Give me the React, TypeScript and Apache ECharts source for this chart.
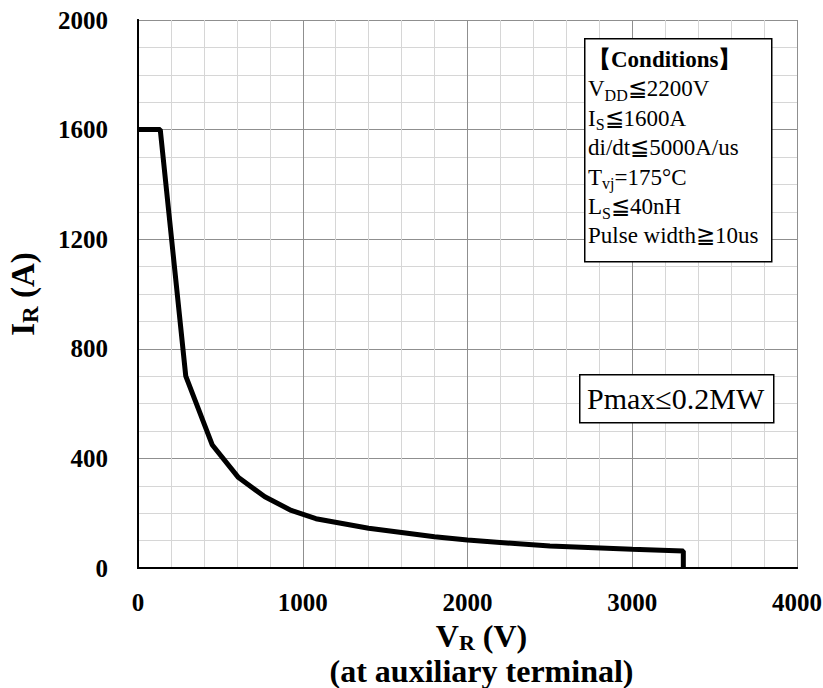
import React, { useEffect, useRef } from "react";
import * as echarts from "echarts";

const voltageV = [0, 135, 290, 450, 610, 770, 930, 1080, 1400, 1800, 2000, 2500, 3000, 3310, 3310];
const currentA = [1600, 1600, 700, 450, 330, 260, 210, 180, 145, 114, 102, 80, 68, 62, 0];
const xRange = [0, 4000];
const yRange = [0, 2000];
const conditionLines = [
  "{h|【Conditions】}",
  "{t|V}{s|DD}{t|≦2200V}",
  "{t|I}{s|S}{t|≦1600A}",
  "{t|di/dt≦5000A/us}",
  "{t|T}{s|vj}{t|=175°C}",
  "{t|L}{s|S}{t|≦40nH}",
  "{t|Pulse width≧10us}",
];
const pmaxText = "Pmax≤0.2MW";

const SERIF = "Liberation Serif";

export default function App() {
  const ref = useRef<HTMLDivElement>(null);
  useEffect(() => {
    if (!ref.current) return;
    const chart = echarts.init(ref.current, null, { renderer: "svg" });
    const data = voltageV.map((v, i) => [v, currentA[i]]);
    const frameAxis = {
      show: true,
      axisLine: { show: true, lineStyle: { color: "#000", width: 2 } },
      axisTick: { show: false },
      axisLabel: { show: false },
      splitLine: { show: false },
    };
    const richX = {
      b: { fontFamily: SERIF, fontWeight: "bold", fontSize: 32, color: "#000", lineHeight: 35 },
      bs: { fontFamily: SERIF, fontWeight: "bold", fontSize: 22, color: "#000", verticalAlign: "bottom", lineHeight: 29 },
    };
    const richY = {
      b: { fontFamily: SERIF, fontWeight: "bold", fontSize: 33, color: "#000", lineHeight: 38 },
      bs: { fontFamily: SERIF, fontWeight: "bold", fontSize: 23, color: "#000", verticalAlign: "bottom", lineHeight: 32 },
    };
    chart.setOption({
      animation: false,
      backgroundColor: "#fff",
      grid: { left: 138, right: 26, top: 20, bottom: 120, containLabel: false, outerBoundsMode: "none" },
      xAxis: [
        {
          type: "value",
          min: xRange[0],
          max: xRange[1],
          interval: 1000,
          axisLine: { show: true, onZero: false, lineStyle: { color: "#000", width: 2 } },
          axisTick: { show: false },
          axisLabel: {
            margin: 22,
            color: "#000",
            fontFamily: SERIF,
            fontWeight: "bold",
            fontSize: 25,
            formatter: (v: number) => String(v),
          },
          splitLine: { show: true, lineStyle: { color: "#8f8f8f", width: 1 } },
          minorTick: { show: false, splitNumber: 5 },
          minorSplitLine: { show: true, lineStyle: { color: "#d6d6d6", width: 1 } },
          name: "{b|V}{bs|R}{b| (V)}\n{b|(at auxiliary terminal)}",
          nameLocation: "middle",
          nameGap: 30,
          nameTextStyle: { color: "#000", rich: richX, padding: [0, 0, 0, 28] },
        },
        { ...frameAxis, type: "value", position: "top", min: xRange[0], max: xRange[1] },
      ],
      yAxis: [
        {
          type: "value",
          min: yRange[0],
          max: yRange[1],
          interval: 400,
          axisLine: { show: true, onZero: false, lineStyle: { color: "#000", width: 2 } },
          axisTick: { show: false },
          axisLabel: {
            margin: 30,
            color: "#000",
            fontFamily: SERIF,
            fontWeight: "bold",
            fontSize: 25,
            formatter: (v: number) => String(v),
          },
          splitLine: { show: true, lineStyle: { color: "#8f8f8f", width: 1 } },
          minorTick: { show: false, splitNumber: 4 },
          minorSplitLine: { show: true, lineStyle: { color: "#d6d6d6", width: 1 } },
          name: "{b|I}{bs|R}{b| (A)}",
          nameLocation: "middle",
          nameGap: 96,
          nameTextStyle: { color: "#000", rich: richY },
        },
        { ...frameAxis, type: "value", position: "right", min: yRange[0], max: yRange[1] },
      ],
      series: [
        {
          type: "line",
          data,
          showSymbol: false,
          symbol: "none",
          lineStyle: { color: "#000", width: 5 },
          z: 5,
        },
      ],
      graphic: [
        {
          type: "rect",
          left: 584,
          top: 38,
          shape: { width: 187, height: 223 },
          style: { fill: "#fff", stroke: "#000", lineWidth: 1.5 },
          z: 10,
        },
        {
          type: "text",
          left: 588,
          top: 48,
          style: {
            text: conditionLines.join("\n"),
            font: "23px Liberation Serif",
            fontFamily: SERIF,
            rich: {
              h: { fontFamily: SERIF, fontWeight: "bold", fontSize: 23, lineHeight: 29.4, fill: "#000" },
              t: { fontFamily: SERIF, fontSize: 23, lineHeight: 29.4, fill: "#000" },
              s: { fontFamily: SERIF, fontSize: 16, lineHeight: 24, fill: "#000", verticalAlign: "bottom" },
            },
          },
          z: 11,
        },
        {
          type: "rect",
          left: 579,
          top: 374,
          shape: { width: 194, height: 48 },
          style: { fill: "#fff", stroke: "#000", lineWidth: 1.5 },
          z: 10,
        },
        {
          type: "text",
          left: 587,
          top: 383,
          style: {
            text: pmaxText,
            font: "30px Liberation Serif",
            fontFamily: SERIF,
            fontSize: 30,
            fill: "#000",
          },
          z: 11,
        },
      ],
    });
    return () => chart.dispose();
  }, []);
  return <div ref={ref} style={{ position: "fixed", left: 0, top: 0, width: 823, height: 688 }} />;
}
